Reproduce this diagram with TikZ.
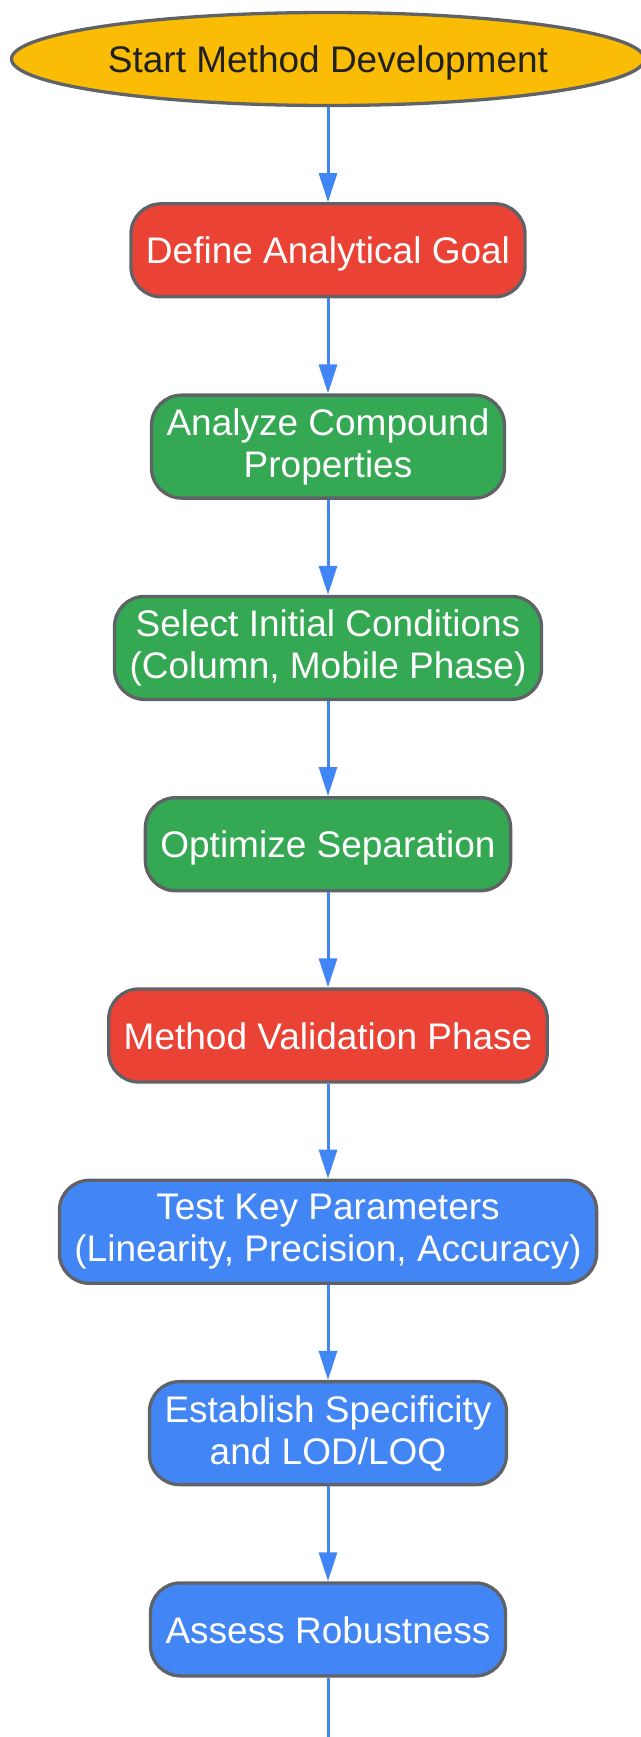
\documentclass[tikz,border=0pt]{standalone}
\usepackage{fontspec}
\setmainfont{Liberation Sans}
\usetikzlibrary{positioning,shapes.geometric,arrows.meta}
\definecolor{gelb}{HTML}{FBBC05}
\definecolor{rot}{HTML}{EA4335}
\definecolor{gruen}{HTML}{34A853}
\definecolor{blau}{HTML}{4285F4}
\definecolor{rand}{HTML}{5F6368}
\definecolor{dunkel}{HTML}{202124}
\newcommand{\zeile}{\rule[-7pt]{0pt}{42pt}}
\begin{document}
	\begin{tikzpicture}
		[x=1pt,y=1pt,
		every node/.style={draw=rand,line width=3.3pt,text=white,align=center,font=\fontsize{37}{42}\selectfont,
			inner ysep=4pt,execute at begin node=\zeile,execute at end node=\zeile},
		kasten/.style={rounded corners=30pt,minimum height=93pt,inner xsep=15pt},
		hoch/.style={minimum height=103pt},
		pfeil/.style={draw=blau,line width=3pt,-{Triangle[length=29pt,width=18pt]}},
		linie/.style={draw=blau,line width=3pt},
		node distance=95pt,
		]

		\useasboundingbox (0,0) rectangle (640,-1737);

		\node[ellipse,fill=gelb,text=dunkel,minimum width=633pt,minimum height=93pt,inner sep=0pt] (start) at (328,-59) {Start Method Development};
		\node[kasten,fill=rot,below=of start] (ziel) {Define Analytical Goal};
		\node[kasten,hoch,fill=gruen,below=of ziel] (eigenschaften) {Analyze Compound\\Properties};
		\node[kasten,hoch,fill=gruen,below=of eigenschaften] (bedingungen) {Select Initial Conditions\\(Column, Mobile Phase)};
		\node[kasten,fill=gruen,below=of bedingungen] (trennung) {Optimize Separation};
		\node[kasten,fill=rot,below=of trennung] (validierung) {Method Validation Phase};
		\node[kasten,hoch,fill=blau,below=of validierung] (parameter) {Test Key Parameters\\(Linearity, Precision, Accuracy)};
		\node[kasten,hoch,fill=blau,below=of parameter] (spezifitaet) {Establish Specificity\\and LOD/LOQ};
		\node[kasten,fill=blau,below=of spezifitaet] (robustheit) {Assess Robustness};
		% die Linie läuft unten aus dem Bild
		\coordinate (ende) at (328,-1760);

		\draw[pfeil] (start) -- (ziel);
		\draw[pfeil] (ziel) -- (eigenschaften);
		\draw[pfeil] (eigenschaften) -- (bedingungen);
		\draw[pfeil] (bedingungen) -- (trennung);
		\draw[pfeil] (trennung) -- (validierung);
		\draw[pfeil] (validierung) -- (parameter);
		\draw[pfeil] (parameter) -- (spezifitaet);
		\draw[pfeil] (spezifitaet) -- (robustheit);
		\draw[linie] (robustheit) -- (ende);
	\end{tikzpicture}
\end{document}
